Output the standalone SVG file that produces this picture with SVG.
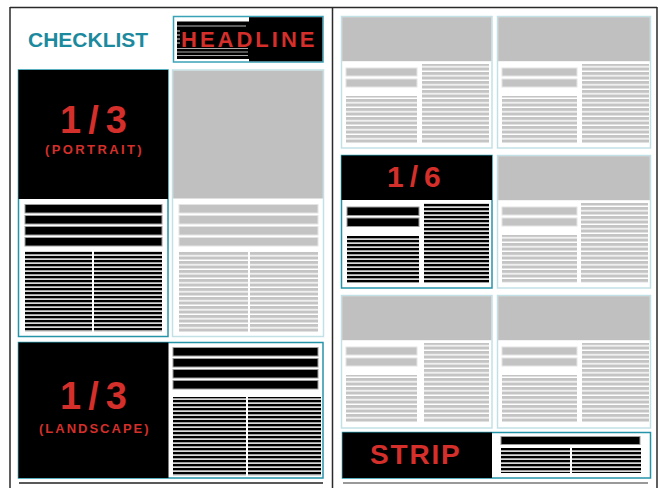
<svg xmlns="http://www.w3.org/2000/svg" width="660" height="488" viewBox="0 0 660 488">
<style>
.frame{fill:none;stroke:#2a2a2a;stroke-width:1.5}
.tb{fill:#fff;stroke:#2495a9;stroke-width:1.5}
.lb{fill:#fff;stroke:#c2e1e7;stroke-width:1.5}
.img{fill:#c0c0c0}
.bk{fill:#000}
.bbar{fill:#000;stroke:#9c9c9c;stroke-width:1}
.gbar{fill:#c3c3c3;stroke:#e4e4e4;stroke-width:1}
.bs{fill:url(#blk)}
.gs{fill:url(#gry)}
.red{fill:#d42f2b;font-family:"Liberation Sans",Arial,sans-serif;font-weight:bold}
.teal{fill:#1c8a9e;font-family:"Liberation Sans",Arial,sans-serif;font-weight:bold}
</style>
<defs>
<pattern id="blk" x="0" y="0" width="10" height="4" patternUnits="userSpaceOnUse">
<rect width="10" height="4" fill="#fff"/>
<rect width="10" height="2.4" fill="#000"/>
<rect y="2.4" width="10" height="1" fill="#a3a3a3"/>
</pattern>
<pattern id="gry" x="0" y="0" width="10" height="4.5" patternUnits="userSpaceOnUse">
<rect width="10" height="4.5" fill="#fff"/>
<rect width="10" height="3" fill="#c4c4c4"/>
<rect y="3" width="10" height="0.6" fill="#e2e2e2"/>
</pattern>
</defs>
<rect width="660" height="488" fill="#fff"/>

<g id="frame">
<line class="frame" x1="10" y1="7.5" x2="657" y2="7.5"/>
<line class="frame" x1="10" y1="7" x2="10" y2="488"/>
<line class="frame" x1="332.5" y1="7" x2="332.5" y2="488"/>
<line class="frame" x1="657" y1="7" x2="657" y2="488"/>
<line x1="19" y1="483" x2="323" y2="483" stroke="#222" stroke-width="1.5"/>
<line x1="343" y1="483" x2="648" y2="483" stroke="#777" stroke-width="1.5"/>
</g>

<g id="checklist">
<text class="teal" x="28" y="46.5" font-size="21">CHECKLIST</text>
</g>

<g id="headline">
<rect x="173.5" y="16.5" width="149.5" height="45.5" fill="#fff" stroke="#3aa2b7" stroke-width="1.5"/>
<rect x="177" y="21.5" width="72" height="37.5" fill="#000"/>
<line x1="177" y1="26" x2="246" y2="26" stroke="#bbb" stroke-width="1"/>
<line x1="177" y1="48.5" x2="248" y2="48.5" stroke="#aaa" stroke-width="1"/>
<line x1="177" y1="52" x2="248" y2="52" stroke="#aaa" stroke-width="1"/>
<line x1="177" y1="55.5" x2="248" y2="55.5" stroke="#aaa" stroke-width="1"/>
<line x1="177" y1="31" x2="180" y2="31" stroke="#ddd" stroke-width="1"/>
<line x1="177" y1="35" x2="180" y2="35" stroke="#ddd" stroke-width="1"/>
<line x1="177" y1="39" x2="180" y2="39" stroke="#ddd" stroke-width="1"/>
<line x1="177" y1="43" x2="180" y2="43" stroke="#ddd" stroke-width="1"/>
<rect x="249" y="17.2" width="73.3" height="44.1" fill="#000"/>
<text class="red" x="181" y="47" font-size="22" letter-spacing="3">HEADLINE</text>
</g>

<g id="portrait">
<rect class="tb" x="18.5" y="70" width="149.5" height="266.5"/>
<rect class="bk" x="18.5" y="70" width="149.5" height="129"/>
<rect class="bbar" x="25" y="204.5" width="137" height="8.5"/>
<rect class="bbar" x="25" y="215.5" width="137" height="8.5"/>
<rect class="bbar" x="25" y="226.5" width="137" height="8.5"/>
<rect class="bbar" x="25" y="237.5" width="137" height="8.5"/>
<rect class="bs" x="25" y="251" width="67" height="81"/>
<rect class="bs" x="94" y="251" width="68" height="81"/>
<text class="red" x="60" y="133" font-size="38" letter-spacing="7">1/3</text>
<text class="red" x="45" y="153.5" font-size="13" letter-spacing="2.4">(PORTRAIT)</text>
</g>

<g id="gray-portrait">
<rect class="lb" x="172.5" y="70" width="151" height="266.5"/>
<rect class="img" x="173.2" y="70.7" width="149.6" height="127.8"/>
<rect class="gbar" x="179" y="204.5" width="139" height="8.5"/>
<rect class="gbar" x="179" y="215.5" width="139" height="8.5"/>
<rect class="gbar" x="179" y="226.5" width="139" height="8.5"/>
<rect class="gbar" x="179" y="237.5" width="139" height="8.5"/>
<rect class="gs" x="179" y="251" width="69" height="81"/>
<rect class="gs" x="250" y="251" width="68" height="81"/>
</g>

<g id="landscape">
<rect class="tb" x="18.5" y="342.5" width="304.5" height="135.5"/>
<rect class="bk" x="18.5" y="342.5" width="150" height="135.5"/>
<rect class="bbar" x="173" y="347.5" width="145" height="8.5"/>
<rect class="bbar" x="173" y="358.5" width="145" height="8.5"/>
<rect class="bbar" x="173" y="369.5" width="145" height="8.5"/>
<rect class="bbar" x="173" y="380.5" width="145" height="8.5"/>
<rect class="bs" x="173" y="397" width="73" height="79"/>
<rect class="bs" x="248" y="397" width="73" height="79"/>
<text class="red" x="60" y="409" font-size="38" letter-spacing="7">1/3</text>
<text class="red" x="39" y="433" font-size="13" letter-spacing="2">(LANDSCAPE)</text>
</g>

<g id="tile-r1-left">
<rect class="lb" x="341.5" y="16.5" width="150.5" height="131.5"/>
<rect class="img" x="342.2" y="17.2" width="149.1" height="44"/>
<rect class="gbar" x="346" y="68" width="71" height="8"/>
<rect class="gbar" x="346" y="79" width="71" height="8"/>
<rect class="gs" x="346" y="96" width="71" height="48"/>
<rect class="gs" x="422" y="64" width="67" height="80"/>
</g>

<g id="tile-r1-right">
<rect class="lb" x="497.5" y="16.5" width="153" height="131.5"/>
<rect class="img" x="498.2" y="17.2" width="151.6" height="44"/>
<rect class="gbar" x="502" y="68" width="75" height="8"/>
<rect class="gbar" x="502" y="79" width="75" height="8"/>
<rect class="gs" x="502" y="96" width="75" height="48"/>
<rect class="gs" x="582" y="64" width="67" height="80"/>
</g>

<g id="sixth">
<rect class="tb" x="341.5" y="155.5" width="150.5" height="132.5"/>
<rect class="bk" x="341.5" y="155.5" width="150.5" height="44.5"/>
<rect class="bbar" x="347" y="207" width="72" height="8.5"/>
<rect class="bbar" x="347" y="218" width="72" height="8.5"/>
<rect class="bs" x="347" y="236" width="72" height="47"/>
<rect class="bs" x="424" y="203" width="65" height="80"/>
<text class="red" x="387" y="187" font-size="30" letter-spacing="6">1/6</text>
</g>

<g id="tile-r2-right">
<rect class="lb" x="497.5" y="155.5" width="153" height="132.5"/>
<rect class="img" x="498.2" y="156.2" width="151.6" height="44"/>
<rect class="gbar" x="502" y="207" width="75" height="8"/>
<rect class="gbar" x="502" y="218" width="75" height="8"/>
<rect class="gs" x="502" y="235" width="75" height="48"/>
<rect class="gs" x="581" y="203" width="67" height="80"/>
</g>

<g id="tile-r3-left">
<rect class="lb" x="341.5" y="295.5" width="150.5" height="132.5"/>
<rect class="img" x="342.2" y="296.2" width="149.1" height="44"/>
<rect class="gbar" x="346" y="347" width="71" height="8"/>
<rect class="gbar" x="346" y="358" width="71" height="8"/>
<rect class="gs" x="346" y="375" width="71" height="48"/>
<rect class="gs" x="424" y="343" width="65" height="80"/>
</g>

<g id="tile-r3-right">
<rect class="lb" x="497.5" y="295.5" width="153" height="132.5"/>
<rect class="img" x="498.2" y="296.2" width="151.6" height="44"/>
<rect class="gbar" x="502" y="347" width="75" height="8"/>
<rect class="gbar" x="502" y="358" width="75" height="8"/>
<rect class="gs" x="502" y="375" width="75" height="48"/>
<rect class="gs" x="582" y="343" width="67" height="80"/>
</g>

<g id="strip">
<rect class="tb" x="342.5" y="432.5" width="308" height="45.5"/>
<rect class="bk" x="342.5" y="432.5" width="149.5" height="45.5"/>
<rect class="bbar" x="501" y="436.5" width="139" height="8"/>
<rect class="bs" x="501" y="448" width="69" height="25"/>
<rect class="bs" x="572" y="448" width="69" height="25"/>
<text class="red" x="370" y="464" font-size="28" letter-spacing="1.8">STRIP</text>
</g>

<g id="connectors"/>
</svg>
